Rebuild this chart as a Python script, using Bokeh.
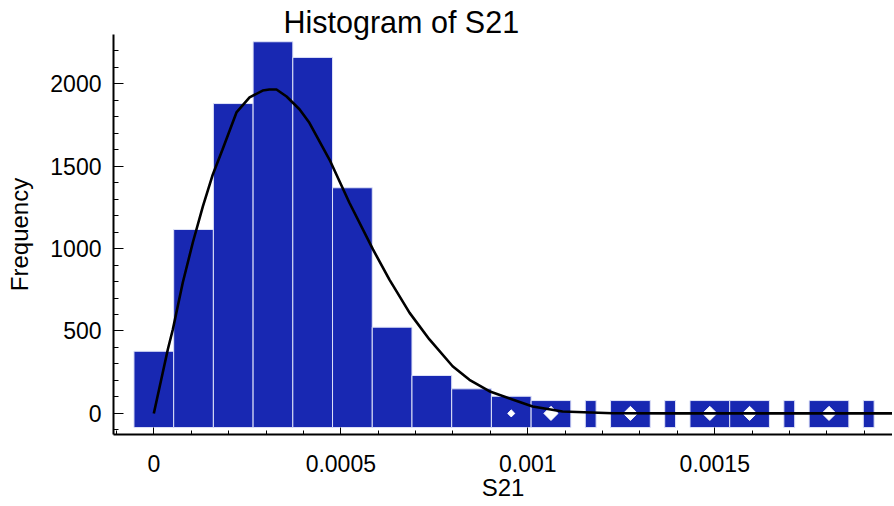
from bokeh.plotting import figure
from bokeh.models import Range1d, FixedTicker, CustomJSTickFormatter
from bokeh.embed import file_html
from bokeh.resources import INLINE

# ---- data ----
bin_width = 0.0001062
counts = [377, 1116, 1880, 2255, 2160, 1369, 523, 230, 149, 104, 78, 0, 78, 0, 78, 78, 0, 78, 0]
# bins whose tiny counts are shown with a white diamond mark
marked_bins = [9, 10, 12, 14, 15, 17]
marked_sizes = [5, 10, 10, 10, 10, 10]
# fitted density curve (x, frequency)
curve_x = [0, 3.74e-5, 5.08e-5, 7.75e-5, 1.043e-4, 1.31e-4, 1.578e-4, 1.837e-4, 2.21e-4,
           2.56e-4, 2.91e-4, 3.09e-4, 3.28e-4, 3.55e-4, 3.9e-4, 4.16e-4, 4.7e-4, 5.23e-4,
           5.86e-4, 6.3e-4, 6.84e-4, 7.37e-4, 7.99e-4, 8.44e-4, 8.97e-4, 9.59e-4, 1.013e-3,
           1.093e-3, 1.227e-3, 1.4e-3, 1.7e-3, 1.98e-3]
curve_y = [0, 388, 509, 794, 1037, 1255, 1450, 1601, 1826,
           1917, 1959, 1965, 1965, 1923, 1844, 1763, 1539, 1278,
           995, 812, 610, 449, 286, 204, 135, 84, 42,
           12, 1, 0, 0, 0]
x_ticks = [0, 0.0005, 0.001, 0.0015]
y_ticks = [0, 500, 1000, 1500, 2000]

FONT = "Liberation Sans"
BAR = "#1828b2"
base = -86        # visual baseline of the bars
stub_top = 78     # visual height of empty-bin stubs
stub_w = 2.9e-5

p = figure(width=892, height=504, output_backend="svg", toolbar_location=None,
           x_range=Range1d(-1.078e-4, 1.9752e-3), y_range=Range1d(-128, 2299),
           min_border_left=113, min_border_right=0, min_border_top=34, min_border_bottom=70,
           title="Histogram of S21")
p.outline_line_color = None
p.xgrid.visible = False
p.ygrid.visible = False
p.background_fill_color = "white"
p.border_fill_color = "white"

p.title.align = "left"
p.title.offset = 170
p.title.standoff = -9
p.title.text_font = FONT
p.title.text_font_size = "30.5px"
p.title.text_font_style = "normal"
p.title.text_color = "black"

left, right, top = [], [], []
for i, c in enumerate(counts):
    cx = i * bin_width
    if c > 0:
        left.append(cx - bin_width / 2); right.append(cx + bin_width / 2); top.append(c)
    else:
        left.append(cx - stub_w / 2); right.append(cx + stub_w / 2); top.append(stub_top)
p.quad(left=left, right=right, bottom=[base] * len(left), top=top,
       fill_color=BAR, line_color="#dfe3f8", line_width=1)

p.scatter(x=[i * bin_width for i in marked_bins], y=[0] * len(marked_bins),
          marker="square", angle=0.7854, size=marked_sizes,
          fill_color="white", line_color="white")

p.line(curve_x, curve_y, line_color="black", line_width=2.6)

# axes
p.xaxis.ticker = FixedTicker(ticks=x_ticks, minor_ticks=[k * 0.0001 for k in range(-1, 20)])
p.yaxis.ticker = FixedTicker(ticks=y_ticks, minor_ticks=[k * 100 for k in range(-1, 23)])
p.xaxis.formatter = CustomJSTickFormatter(code="return String(Number(tick.toPrecision(6)));")
for ax in (p.xaxis[0], p.yaxis[0]):
    ax.axis_line_color = "black"
    ax.axis_line_width = 2
    ax.major_tick_line_color = "black"
    ax.minor_tick_line_color = "black"
    ax.major_tick_line_width = 1
    ax.minor_tick_line_width = 1
    ax.major_tick_out = 0
    ax.minor_tick_out = 0
    ax.major_label_text_font = FONT
    ax.major_label_text_font_size = "23px"
    ax.major_label_text_color = "black"
    ax.axis_label_text_font = FONT
    ax.axis_label_text_font_size = "24px"
    ax.axis_label_text_font_style = "normal"
    ax.axis_label_text_color = "black"
p.xaxis.major_tick_in = 7
p.xaxis.minor_tick_in = 4
p.yaxis.major_tick_in = 10
p.yaxis.minor_tick_in = 5
p.xaxis.axis_label = "S21"
p.yaxis.axis_label = "Frequency"
p.xaxis.major_label_standoff = 20
p.xaxis.axis_label_standoff = -1
p.yaxis.major_label_standoff = 12
p.yaxis.axis_label_standoff = 14

open("out.html", "w").write(file_html(p, INLINE))
